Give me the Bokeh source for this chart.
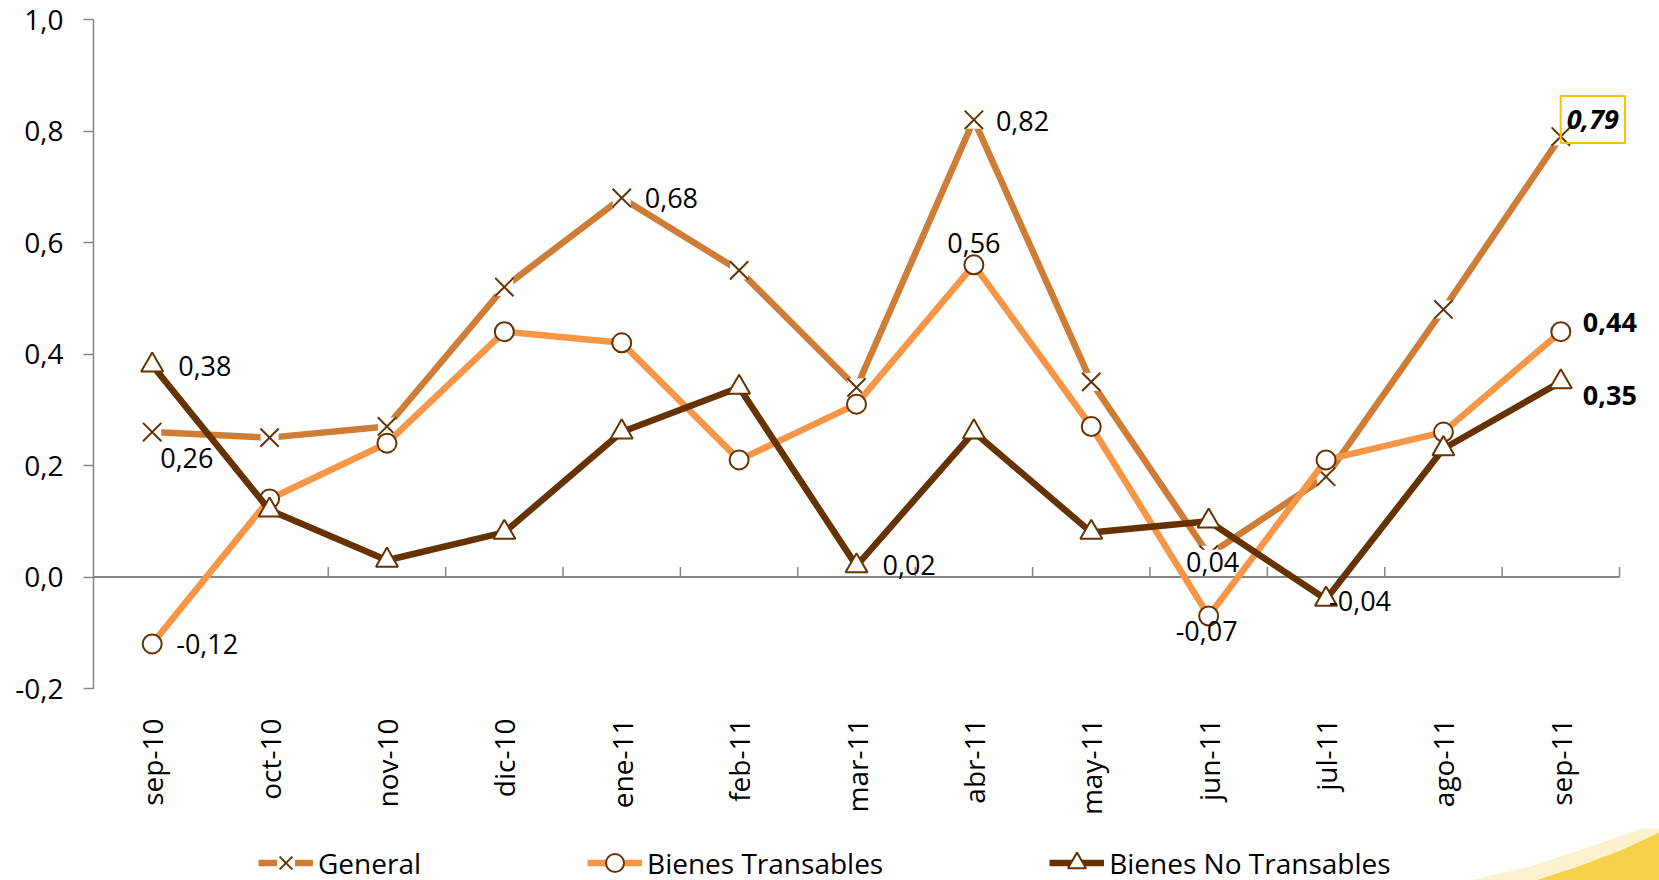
import math
from bokeh.plotting import figure
from bokeh.layouts import column
from bokeh.models import Range1d, FixedTicker, Legend, LegendItem
from bokeh.core.properties import value
from bokeh.embed import file_html
from bokeh.resources import INLINE

# ---------------- data ----------------
months = ["sep-10", "oct-10", "nov-10", "dic-10", "ene-11", "feb-11", "mar-11",
          "abr-11", "may-11", "jun-11", "jul-11", "ago-11", "sep-11"]
general = [0.26, 0.25, 0.27, 0.52, 0.68, 0.55, 0.34, 0.82, 0.35, 0.04, 0.18, 0.48, 0.79]
transables = [-0.12, 0.14, 0.24, 0.44, 0.42, 0.21, 0.31, 0.56, 0.27, -0.07, 0.21, 0.26, 0.44]
no_transables = [0.38, 0.12, 0.03, 0.08, 0.26, 0.34, 0.02, 0.26, 0.08, 0.10, -0.04, 0.23, 0.35]
series_names = ["General", "Bienes Transables", "Bienes No Transables"]
y_ticks = [-0.2, 0.0, 0.2, 0.4, 0.6, 0.8, 1.0]
y_tick_labels = ["-0,2", "0,0", "0,2", "0,4", "0,6", "0,8", "1,0"]
# indices of the labelled points
general_labelled = [0, 4, 7, 9, 12]
transables_labelled = [0, 7, 9, 12]
no_transables_labelled = [0, 6, 10, 12]

# ---------------- styles ----------------
FONT = value("Open Sans")
C_GEN = "#CF7C36"
C_BT = "#F79646"
C_BNT = "#663300"
C_MK = "#663300"
C_AX = "#868686"

# label placement per labelled point: (align, dx, dy, style, boxed, white_bg)
gen_label_style = [("left", 8, 26, "normal", False, False),
                   ("left", 23, 0, "normal", False, False),
                   ("left", 22, 1, "normal", False, False),
                   ("center", 4, 7, "normal", False, True),
                   ("center", 32, -17, "bold italic", True, False)]
bt_label_style = [("left", 24, 0, "normal", False, False),
                  ("center", 0, -22, "normal", False, False),
                  ("center", -2, 15, "normal", False, False),
                  ("left", 22, -9, "bold", False, False)]
bnt_label_style = [("left", 26, 1, "normal", False, False),
                   ("left", 26, -1, "normal", False, False),
                   ("left", 3, 2, "normal", False, False),
                   ("left", 22, 14, "bold", False, False)]

n = len(months)
xs = [i + 0.5 for i in range(n)]
AXIS_PX = 1526           # pixel length of the category axis
EXTRA_PX = 40            # room to the right of the axis for labels
LEFT_PX = 93
x_end = n * (AXIS_PX + EXTRA_PX) / AXIS_PX
W = 1659
H_MAIN = 828
H_LEG = 52

p = figure(width=W, height=H_MAIN, output_backend="svg", toolbar_location=None,
           x_range=Range1d(0, x_end), y_range=Range1d(y_ticks[0], y_ticks[-1]),
           min_border=0, min_border_left=LEFT_PX,
           min_border_right=W - LEFT_PX - AXIS_PX - EXTRA_PX,
           min_border_top=19, min_border_bottom=H_MAIN - 19 - 669)
p.outline_line_color = None
p.xgrid.visible = False
p.ygrid.visible = False
p.background_fill_color = "white"
p.border_fill_color = "white"

# y axis
p.yaxis.ticker = FixedTicker(ticks=y_ticks)
p.yaxis.major_label_overrides = {t: l for t, l in zip(y_ticks, y_tick_labels)}
p.yaxis.axis_line_color = C_AX
p.yaxis.axis_line_width = 1.5
p.yaxis.major_tick_line_color = C_AX
p.yaxis.major_tick_line_width = 1.5
p.yaxis.major_tick_in = 0
p.yaxis.major_tick_out = 10
p.yaxis.minor_tick_line_color = None
p.yaxis.major_label_standoff = 20
p.yaxis.major_label_text_font = "Open Sans"
p.yaxis.major_label_text_font_size = "28px"
p.yaxis.major_label_text_color = "black"

# x axis (labels only, at the bottom)
p.xaxis.ticker = FixedTicker(ticks=xs)
p.xaxis.major_label_overrides = {x: m for x, m in zip(xs, months)}
p.xaxis.axis_line_color = None
p.xaxis.major_tick_line_color = None
p.xaxis.minor_tick_line_color = None
p.xaxis.major_tick_in = 0
p.xaxis.major_tick_out = 0
p.xaxis.major_label_standoff = 30
p.xaxis.major_label_orientation = math.pi / 2
p.xaxis.major_label_text_font = "Open Sans"
p.xaxis.major_label_text_font_size = "28px"
p.xaxis.major_label_text_color = "black"

# zero line with category-boundary ticks
p.segment(x0=[0], y0=[0], x1=[n], y1=[0], line_color=C_AX, line_width=2)
bounds = list(range(1, n + 1))
tick_len = 0.018
p.segment(x0=bounds, y0=[0] * len(bounds), x1=bounds, y1=[tick_len] * len(bounds),
          line_color=C_AX, line_width=1.5)


def fmt(v):
    return f"{v:.2f}".replace(".", ",")


def add_labels(vals, idxs, styles):
    for i, (align, dx, dy, style, boxed, white) in zip(idxs, styles):
        kw = {}
        if boxed:
            kw.update(border_line_color="#FFC000", border_line_width=2, padding=(6, 14))
        if white:
            kw.update(background_fill_color="white", padding=2)
        p.text(x=[xs[i]], y=[vals[i]], text=[fmt(vals[i])], x_offset=dx, y_offset=dy,
               text_align=align, text_baseline="middle", text_font=FONT,
               text_font_size="27px", text_font_style=style, text_color="black", **kw)


def draw_series(fig, vals, kind, color):
    rs = [fig.line(xs, vals, line_color=color, line_width=6.5, line_join="round")]
    if kind == "x":
        rs.append(fig.scatter(xs, vals, marker="square", size=18, fill_color="white", line_color=None))
        rs.append(fig.scatter(xs, vals, marker="x", size=26, line_color=C_MK, line_width=2))
    elif kind == "circle":
        rs.append(fig.scatter(xs, vals, marker="circle", size=19, fill_color="white",
                              line_color=C_MK, line_width=2))
    else:
        rs.append(fig.scatter(xs, vals, marker="triangle", size=22, fill_color="white",
                              line_color=C_MK, line_width=2))
    return rs


draw_series(p, general, "x", C_GEN)
add_labels(general, general_labelled, gen_label_style)
draw_series(p, transables, "circle", C_BT)
add_labels(transables, transables_labelled, bt_label_style)
draw_series(p, no_transables, "triangle", C_BNT)
add_labels(no_transables, no_transables_labelled, bnt_label_style)

# ---------------- legend strip ----------------
# its frame is laid out in page pixels: x = page x, y = 1000 - page y
lf = figure(width=W, height=H_LEG, output_backend="svg", toolbar_location=None,
            x_range=Range1d(LEFT_PX, W), y_range=Range1d(1000 - H_MAIN - H_LEG, 1000 - H_MAIN),
            x_axis_type=None, y_axis_type=None, min_border=0)
lf.outline_line_color = None
lf.xgrid.visible = False
lf.ygrid.visible = False
lf.background_fill_color = "white"
lf.border_fill_color = "white"

# decorative yellow corner swoosh of the slide background
swoosh_glow_x = [1470, 1530, 1590, 1659, 1659, 1470]
swoosh_glow_y = [1000 - 880, 1000 - 866, 1000 - 846, 1000 - 822, 1000 - 880, 1000 - 880]
swoosh_x = [1535, 1578, 1620, 1659, 1659, 1535]
swoosh_y = [1000 - 880, 1000 - 866, 1000 - 850, 1000 - 832, 1000 - 880, 1000 - 880]
lf.patch(swoosh_glow_x, swoosh_glow_y, fill_color="#FCEFC0", fill_alpha=0.8, line_color=None)
lf.patch(swoosh_x, swoosh_y, fill_color="#F7D14A", line_color=None)

rg = draw_series(lf, general, "x", C_GEN)
rt = draw_series(lf, transables, "circle", C_BT)
rn = draw_series(lf, no_transables, "triangle", C_BNT)

legend = Legend(items=[
    LegendItem(label=series_names[0], renderers=rg),
    LegendItem(label=series_names[1], renderers=rt),
    LegendItem(label=series_names[2], renderers=rn),
], orientation="horizontal", location=(165, -5))
legend.glyph_width = 55
legend.glyph_height = 45
legend.label_standoff = 5
legend.spacing = 166
legend.padding = 0
legend.margin = 0
legend.border_line_color = None
legend.background_fill_alpha = 0
legend.label_text_font = "Open Sans"
legend.label_text_font_size = "28px"
legend.label_text_color = "black"
lf.add_layout(legend)

open("out.html", "w").write(file_html(column(p, lf), INLINE))
